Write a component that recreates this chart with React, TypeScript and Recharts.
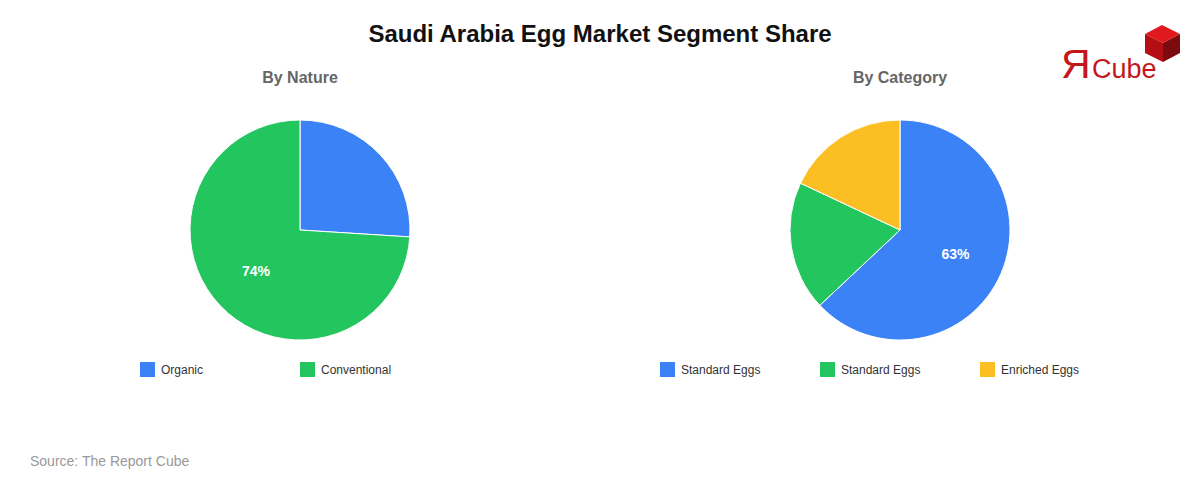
import { PieChart, Pie, Cell, Legend } from "recharts";

const natureLabels = ["Organic", "Conventional"];
const natureValues = [26, 74];
const categoryLabels = ["Standard Eggs", "Standard Eggs", "Enriched Eggs"];
const categoryValues = [63, 19, 18];
const natureColors = ["#3B82F6", "#22C55E"];
const categoryColors = ["#3B82F6", "#22C55E", "#FBBF24"];

const FONT = "'Liberation Sans', Arial, Helvetica, sans-serif";
const RAD = Math.PI / 180;

const renderLabel = (props: any) => {
  const { cx, cy, midAngle, innerRadius, outerRadius, percent } = props;
  if (percent < 0.3) return null;
  const r = innerRadius + (outerRadius - innerRadius) * 0.55;
  const x = cx + r * Math.cos(-midAngle * RAD);
  const y = cy + r * Math.sin(-midAngle * RAD);
  return (
    <text
      x={x}
      y={y}
      fill="#fff"
      fontSize={14}
      fontWeight="bold"
      fontFamily={FONT}
      textAnchor="middle"
      dominantBaseline="central"
    >
      {`${Math.round(percent * 100)}%`}
    </text>
  );
};

function LegendRow({ labels, colors }: { labels: string[]; colors: string[] }) {
  return (
    <div style={{ display: "flex", fontFamily: FONT, fontSize: 12, color: "#333" }}>
      {labels.map((l, i) => (
        <div key={i} style={{ width: 160, display: "flex", alignItems: "center" }}>
          <span
            style={{
              width: 15,
              height: 15,
              background: colors[i],
              marginRight: 6,
              display: "inline-block",
            }}
          />
          {l}
        </div>
      ))}
    </div>
  );
}

function SegmentPie({
  title,
  labels,
  values,
  colors,
}: {
  title: string;
  labels: string[];
  values: number[];
  colors: string[];
}) {
  const data = labels.map((name, i) => ({ name, value: values[i] }));
  const legendWidth = labels.length * 160;
  return (
    <div style={{ position: "relative", width: 600, height: 400 }}>
      <div
        style={{
          position: "absolute",
          top: 69,
          width: 600,
          textAlign: "center",
          fontFamily: FONT,
          fontWeight: "bold",
          fontSize: 16,
          color: "#666",
        }}
      >
        {title}
      </div>
      <PieChart width={600} height={400} margin={{ top: 0, right: 0, bottom: 0, left: 0 }}>
        <Pie
          data={data}
          dataKey="value"
          nameKey="name"
          cx={300}
          cy={230}
          outerRadius={110}
          startAngle={90}
          endAngle={-270}
          stroke="#fff"
          strokeWidth={1}
          label={renderLabel}
          labelLine={false}
          isAnimationActive={false}
        >
          {data.map((_, i) => (
            <Cell key={i} fill={colors[i]} />
          ))}
        </Pie>
        <Legend
          wrapperStyle={{ position: "absolute", top: 362, left: 300 - legendWidth / 2, width: legendWidth }}
          content={() => <LegendRow labels={labels} colors={colors} />}
        />
      </PieChart>
    </div>
  );
}

function Logo() {
  return (
    <svg width={130} height={70} style={{ position: "absolute", left: 1055, top: 22 }}>
      <text x={6} y={56} fontSize={41} fill="#c4161c" fontFamily={FONT}>
        Я
      </text>
      <text x={37} y={56} fontSize={27} fill="#c4161c" fontFamily={FONT}>
        Cube
      </text>
      <polygon points="90,12 107,3 125,12 108,21" fill="#e0191f" />
      <polygon points="90,12 108,21 108,40 90,31" fill="#b30f15" />
      <polygon points="108,21 125,12 125,31 108,40" fill="#7d0a0e" />
    </svg>
  );
}

export default function App() {
  return (
    <div
      style={{
        position: "absolute",
        left: 0,
        top: 0,
        width: 1200,
        height: 480,
        background: "#fff",
        overflow: "hidden",
      }}
    >
      <div
        style={{
          position: "absolute",
          top: 20,
          width: 1200,
          textAlign: "center",
          fontFamily: FONT,
          fontWeight: "bold",
          fontSize: 24,
          color: "#111",
        }}
      >
        Saudi Arabia Egg Market Segment Share
      </div>
      <Logo />
      <div style={{ position: "absolute", left: 0, top: 0 }}>
        <SegmentPie title="By Nature" labels={natureLabels} values={natureValues} colors={natureColors} />
      </div>
      <div style={{ position: "absolute", left: 600, top: 0 }}>
        <SegmentPie
          title="By Category"
          labels={categoryLabels}
          values={categoryValues}
          colors={categoryColors}
        />
      </div>
      <div
        style={{
          position: "absolute",
          left: 30,
          top: 453,
          fontFamily: FONT,
          fontSize: 14,
          color: "#999",
        }}
      >
        Source: The Report Cube
      </div>
    </div>
  );
}
